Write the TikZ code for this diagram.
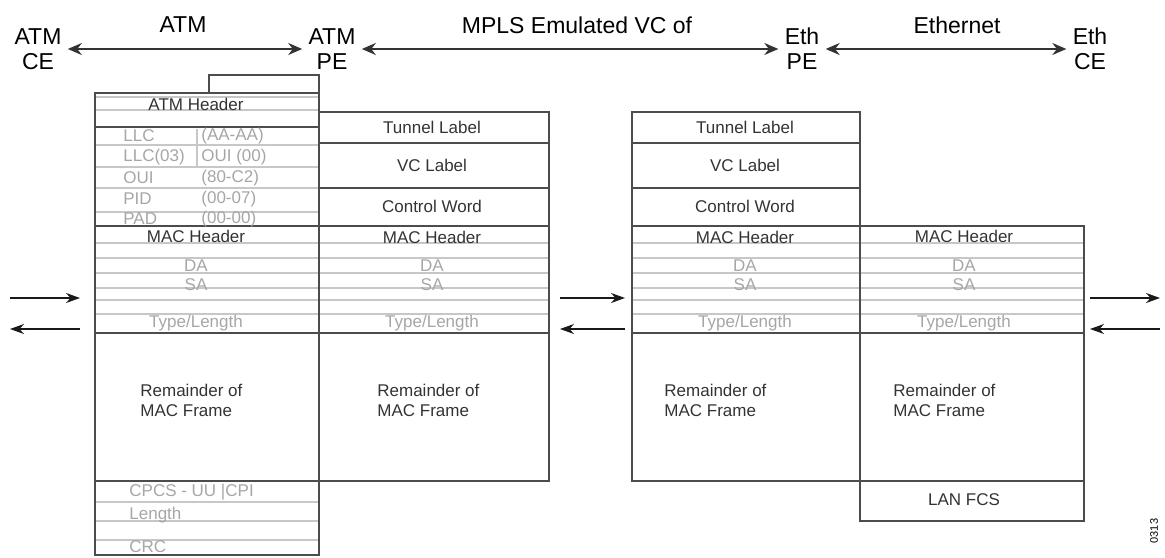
\documentclass[tikz,border=0pt]{standalone}
\usepackage{fontspec}
\setmainfont{Liberation Sans}
\usetikzlibrary{arrows.meta}

\tikzset{
	frame/.style={draw=black!70, line width=0.7pt},
	rule/.style={draw=black!22, line width=0.6pt},
	field/.style={font=\fontsize{8.5}{10}\selectfont, text=black!80, inner sep=0pt},
	faint/.style={font=\fontsize{8.5}{10}\selectfont, text=black!35, inner sep=0pt},
	rest/.style={field, align=left, anchor=west},
	site/.style={font=\fontsize{11.5}{12.5}\selectfont, align=center, inner sep=1pt},
	link/.style={black!80, line width=0.9pt, shorten <=2pt, shorten >=2pt,
		{Stealth[length=7pt,width=6pt]}-{Stealth[length=7pt,width=6pt]}},
	flow/.style={black!90, line width=0.7pt, -{Stealth[length=7pt,width=5pt]}}
}

\begin{document}
\begin{tikzpicture}[x=0.5pt,y=-0.5pt]
	\useasboundingbox (0,0) rectangle (1165,557);

	% SITES
	\node[site] (atmce) at (38,49) {ATM\\CE};
	\node[site] (atmpe) at (332,49) {ATM\\PE};
	\node[site] (ethpe) at (802,49) {Eth\\PE};
	\node[site] (ethce) at (1090,49) {Eth\\CE};
	\node[site] (atmseg) at (183,25) {ATM};
	\node[site] (mplsseg) at (577,25) {MPLS Emulated VC of};
	\node[site] (ethseg) at (957,25) {Ethernet};
	\draw[link] (atmce) -- (atmpe);
	\draw[link] (atmpe) -- (ethpe);
	\draw[link] (ethpe) -- (ethce);

	% ATM FRAME
	\begin{scope}[shift={(95,0)}]
		\def\w{224};
		\foreach \y in {97,110,145,167,188,212,243,258,273,288,300,314,502,521,540}
			\draw[rule] (0,\y) -- (\w,\y);
		\draw[rule] (102,129) -- (102,167);
		\draw[frame] (0,93) rectangle (\w,555);
		\draw[frame] (0,93) -- (114,93) |- (\w,75) -- (\w,93);
		\foreach \y in {127,226,333,481}
			\draw[frame] (0,\y) -- (\w,\y);
		\node[field] (atmhdr) at (101,104) {ATM Header};
		\node[faint, anchor=west] (llc) at (28,136) {LLC};
		\node[faint, anchor=west] (llcval) at (106,136) {(AA-AA)};
		\node[faint, anchor=west] (ctl) at (28,157) {LLC(03)};
		\node[faint, anchor=west] (ouihi) at (106,157) {OUI (00)};
		\node[faint, anchor=west] (oui) at (28,178) {OUI};
		\node[faint, anchor=west] (ouival) at (106,178) {(80-C2)};
		\node[faint, anchor=west] (pid) at (28,199) {PID};
		\node[faint, anchor=west] (pidval) at (106,199) {(00-07)};
		\node[faint, anchor=west] (pad) at (28,219) {PAD};
		\node[faint, anchor=west] (padval) at (106,219) {(00-00)};
		\node[field] (machdrA) at (101,236) {MAC Header};
		\node[faint] (daA) at (101,266) {DA};
		\node[faint] (saA) at (101,285) {SA};
		\node[faint] (typeA) at (101,323) {Type/Length};
		\node[rest] (restA) at (45,400) {Remainder of\\MAC Frame};
		\node[faint, anchor=west] (cpcs) at (34,492) {CPCS - UU |CPI};
		\node[faint, anchor=west] (len) at (34,515) {Length};
		\node[faint, anchor=west] (crc) at (34,547) {CRC};
	\end{scope}

	% MPLS FRAME, ATM SIDE
	\begin{scope}[shift={(319,0)}]
		\def\w{230};
		\foreach \y in {243,258,273,288,300,314}
			\draw[rule] (0,\y) -- (\w,\y);
		\draw[frame] (0,112) rectangle (\w,481);
		\foreach \y in {143,188,226,333}
			\draw[frame] (0,\y) -- (\w,\y);
		\node[field] (tunB) at (113,127) {Tunnel Label};
		\node[field] (vcB) at (113,165) {VC Label};
		\node[field] (cwB) at (113,206) {Control Word};
		\node[field] (machdrB) at (113,237) {MAC Header};
		\node[faint] (daB) at (113,266) {DA};
		\node[faint] (saB) at (113,285) {SA};
		\node[faint] (typeB) at (113,323) {Type/Length};
		\node[rest] (restB) at (58,400) {Remainder of\\MAC Frame};
	\end{scope}

	% MPLS FRAME, ETHERNET SIDE
	\begin{scope}[shift={(632,0)}]
		\def\w{228};
		\foreach \y in {243,258,273,288,300,314}
			\draw[rule] (0,\y) -- (\w,\y);
		\draw[frame] (0,112) rectangle (\w,481);
		\foreach \y in {143,188,226,333}
			\draw[frame] (0,\y) -- (\w,\y);
		\node[field] (tunC) at (113,127) {Tunnel Label};
		\node[field] (vcC) at (113,165) {VC Label};
		\node[field] (cwC) at (113,206) {Control Word};
		\node[field] (machdrC) at (113,237) {MAC Header};
		\node[faint] (daC) at (113,266) {DA};
		\node[faint] (saC) at (113,285) {SA};
		\node[faint] (typeC) at (113,323) {Type/Length};
		\node[rest] (restC) at (32,400) {Remainder of\\MAC Frame};
	\end{scope}

	% ETHERNET FRAME
	\begin{scope}[shift={(860,0)}]
		\def\w{224};
		\foreach \y in {243,258,273,288,300,314}
			\draw[rule] (0,\y) -- (\w,\y);
		\draw[frame] (0,226) rectangle (\w,521);
		\foreach \y in {333,481}
			\draw[frame] (0,\y) -- (\w,\y);
		\node[field] (machdrD) at (104,236) {MAC Header};
		\node[faint] (daD) at (104,266) {DA};
		\node[faint] (saD) at (104,285) {SA};
		\node[faint] (typeD) at (104,323) {Type/Length};
		\node[rest] (restD) at (33,400) {Remainder of\\MAC Frame};
		\node[field] (fcs) at (104,500) {LAN FCS};
	\end{scope}

	% TRAFFIC ARROWS
	\foreach \a/\b [count=\i] in {10/80,560/625,1090/1160} {
		\coordinate (fwdtail\i) at (\a,298);
		\coordinate (fwdhead\i) at (\b,298);
		\coordinate (backtail\i) at (\b,329);
		\coordinate (backhead\i) at (\a,329);
		\draw[flow] (fwdtail\i) -- (fwdhead\i);
		\draw[flow] (backtail\i) -- (backhead\i);
	}

	\node[font=\fontsize{5.5}{6}\selectfont, rotate=90] (figid) at (1154,531) {0313};
\end{tikzpicture}
\end{document}
